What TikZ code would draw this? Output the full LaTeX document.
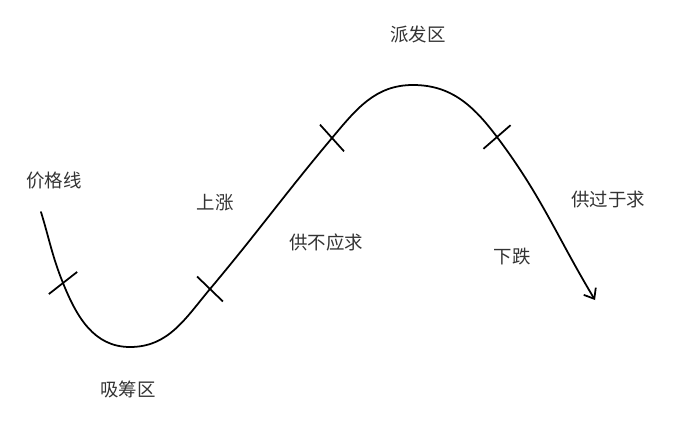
\documentclass[tikz,border=0pt]{standalone}
\usepackage{fontspec}
\newfontfamily\cjk{Noto Sans CJK SC}
\usetikzlibrary{arrows.meta, positioning}

\begin{document}
\begin{tikzpicture}[
  x=0.02cm, y=0.02cm,
  curve/.style={line width=1pt, line cap=round},
  tickmark/.style={line width=1pt},
  lbl/.style={font=\cjk\fontsize{10.5}{12}\selectfont, text=black!80, inner sep=1pt}
]
\useasboundingbox (0,0) rectangle (688,436);
% Points on the price line
\coordinate (s)    at (41,224);
\coordinate (t1)   at (63,153);
\coordinate (bot)  at (130,89);
\coordinate (t2)   at (210,147);
\coordinate (t3)   at (332,298);
\coordinate (peak) at (413,351);
\coordinate (t4)   at (497,299);
\coordinate (e)    at (595,136);
% Price line
\draw[curve, -{Straight Barb[length=5pt, width=8pt]}]
  (s) to[out=-73, in=112] (t1)
      to[out=-68, in=180] (bot)
      to[out=0, in=230] (t2)
      to[out=50, in=230] (t3)
      to[out=50, in=180] (peak)
      to[out=0, in=127] (t4)
      to[out=-53, in=121] (e);
% Tick marks
\foreach \p/\a in {t1/38, t2/-44, t3/-48, t4/41}
  \draw[tickmark] ([shift={(\a:18)}]\p) -- ([shift={(\a+180:18)}]\p);
% Labels
\node[lbl] (price)  at (54,255)  {价格线};
\node[lbl] (rise)   at (215,233) {上涨};
\node[lbl] (accum)  at (128,47)  {吸筹区};
\node[lbl] (demand) at (326,194) {供不应求};
\node[lbl] (distr)  at (418,401) {派发区};
\node[lbl] (supply) at (608,236) {供过于求};
\node[lbl] (fall)   at (512,179) {下跌};
\end{tikzpicture}
\end{document}
